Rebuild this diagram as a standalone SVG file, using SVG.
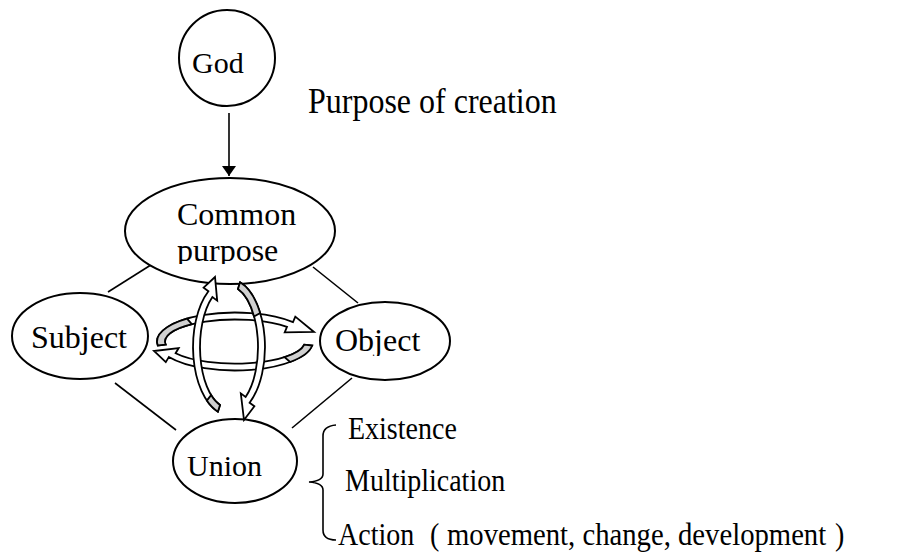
<svg xmlns="http://www.w3.org/2000/svg" width="906" height="554" viewBox="0 0 906 554">
<style>
  .node { fill: #ffffff; stroke: #000000; stroke-width: 2; }
  .t32 { font-family: "Liberation Serif", "Times New Roman", serif; font-size: 32px; fill: #000; }
  .t30 { font-family: "Liberation Serif", "Times New Roman", serif; font-size: 30px; fill: #000; }
  .t28 { font-family: "Liberation Serif", "Times New Roman", serif; font-size: 28px; fill: #000; }
  .edge { stroke: #000; stroke-width: 1.6; fill: none; }
  .band { fill: #ffffff; stroke: #000; stroke-width: 1.8; stroke-linejoin: miter; }
  .tail { fill: #d0d0d0; stroke: #000; stroke-width: 1.8; }
</style>
<defs>
  <marker id="ah" viewBox="0 0 10 14" refX="10" refY="7" markerWidth="10" markerHeight="14" markerUnits="userSpaceOnUse" orient="auto">
    <path d="M0,0 L10,7 L0,14 Z" fill="#000"/>
  </marker>
  <clipPath id="clipCommon"><rect x="120" y="170" width="230" height="94"/></clipPath>
  <clipPath id="clipObject"><rect x="320" y="300" width="140" height="56"/></clipPath>
</defs>
<rect width="906" height="554" fill="#ffffff"/>

<g id="connectors">
  <line class="edge" x1="229" y1="113" x2="229" y2="176" marker-end="url(#ah)"/>
  <line class="edge" x1="108" y1="292" x2="154" y2="263"/>
  <line class="edge" x1="313" y1="267" x2="358" y2="303"/>
  <line class="edge" x1="115" y1="383" x2="176" y2="430"/>
  <line class="edge" x1="352" y1="378" x2="292" y2="428"/>
</g>

<g id="god">
  <circle class="node" cx="227" cy="58" r="48"/>
  <text class="t30" x="192" y="73" font-size="31">God</text>
</g>
<text id="purpose-of-creation" class="t32" transform="translate(308,113) scale(1,1.1)">Purpose of creation</text>

<g id="common-purpose">
  <ellipse class="node" cx="230" cy="231" rx="105" ry="53"/>
  <g clip-path="url(#clipCommon)">
    <text class="t32" x="177" y="225">Common</text>
    <text class="t32" x="177" y="261">purpose</text>
  </g>
</g>

<g id="subject">
  <ellipse class="node" cx="80" cy="336" rx="68" ry="43"/>
  <text class="t32" x="31" y="348">Subject</text>
</g>

<g id="object">
  <ellipse class="node" cx="385" cy="341" rx="65" ry="39"/>
  <text class="t32" x="335" y="351" clip-path="url(#clipObject)">Object</text>
</g>

<g id="union">
  <ellipse class="node" cx="235" cy="461" rx="62" ry="42"/>
  <text class="t30" x="187" y="476">Union</text>
</g>

<g id="cycle">
  <!-- horizontal ring: top arrow (to the right) -->
  <path class="band" d="M157.8,345.5 A78 29 0 0 1 293.0,322.1 L295.3,316.6 L314,332 L284.7,332.3 L287.0,326.8 A70 22 0 0 0 165.7,344.6 Z"/>
  <path class="tail" d="M157.8,345.5 A78 29 0 0 1 187,318.6 L191.9,324.2 A70 22 0 0 0 165.7,344.6 Z"/>
  <!-- horizontal ring: bottom arrow (to the left) -->
  <path class="band" d="M312.2,345.5 A78 29 0 0 1 168.9,356.9 L165.8,362.1 L154,351 L178.7,348.0 L175.6,353.2 A70 22 0 0 0 304.3,344.6 Z"/>
  <path class="tail" d="M312.2,345.5 A78 29 0 0 1 290.1,362 L284.5,357.1 A70 22 0 0 0 304.3,344.6 Z"/>
  <!-- vertical ring: left arrow (upwards) -->
  <path class="band" d="M217.9,411.7 A36 68 0 0 1 208.4,291.3 L203.6,287.7 L215,277 L217.2,300.6 L212.4,297.0 A29 61 0 0 0 220.0,405.0 Z"/>
  <path class="tail" d="M217.9,411.7 A36 68 0 0 1 206.8,400.6 L211.1,395.1 A29 61 0 0 0 220.0,405.0 Z"/>
  <!-- vertical ring: right arrow (downwards) -->
  <path class="band" d="M240.1,282.3 A36 68 0 0 1 249.6,402.7 L254.4,406.3 L244,420 L240.8,393.4 L245.6,397.0 A29 61 0 0 0 238.0,289.0 Z"/>
  <path class="tail" d="M240.1,282.3 A36 68 0 0 1 260.2,313 L254.1,316.5 A29 61 0 0 0 238.0,289.0 Z"/>
</g>

<g id="outcomes">
  <path class="edge" d="M336,425 Q323,426 323,436 L323,474 Q323,481 309,482 Q323,483 323,490 L323,530 Q323,540 336,540"/>
  <text class="t28" transform="translate(348,439) scale(1,1.1)">Existence</text>
  <text class="t28" transform="translate(345,491) scale(1,1.1)">Multiplication</text>
  <text class="t28" transform="translate(338,545) scale(1,1.1)">Action <tspan x="92">(</tspan> <tspan x="109" font-size="28.7">movement, change, development</tspan> <tspan x="497">)</tspan></text>
</g>
</svg>
